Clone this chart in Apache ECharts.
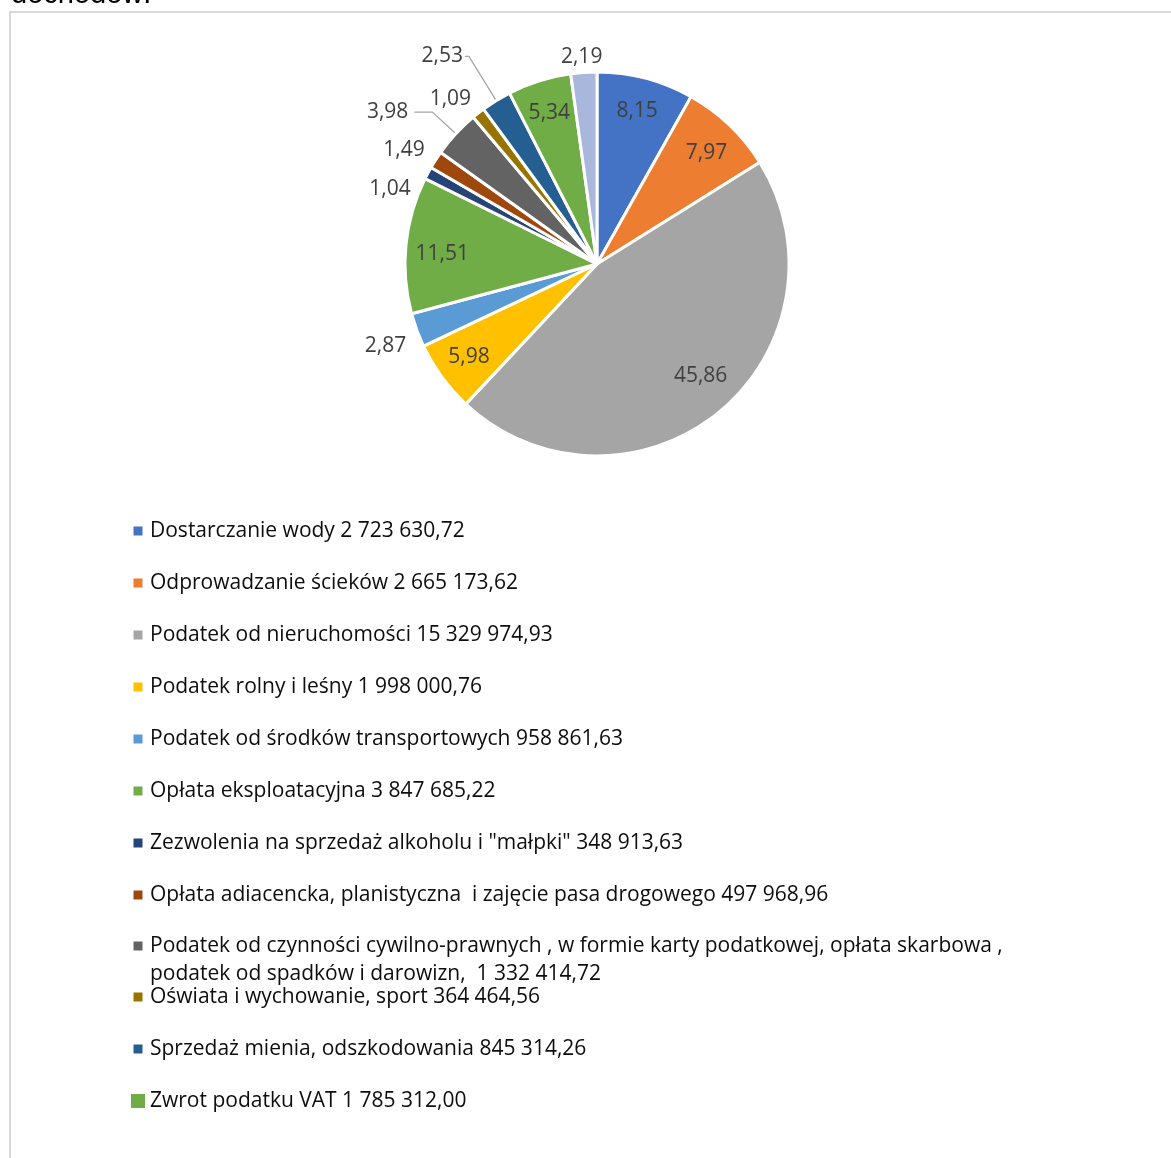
<!DOCTYPE html>
<html>
<head>
<meta charset="utf-8">
<title>Struktura dochodów</title>
<script src="https://cdn.jsdelivr.net/npm/echarts@6/dist/echarts.min.js"></script>
<style>
html, body { margin: 0; padding: 0; background: #fff; }
#pie { width: 1171px; height: 1158px; }
</style>
</head>
<body>
<div id="pie"></div>
<script>
const names = [
  'Dostarczanie wody',
  'Odprowadzanie ścieków',
  'Podatek od nieruchomości',
  'Podatek rolny i leśny',
  'Podatek od środków transportowych',
  'Opłata eksploatacyjna',
  'Zezwolenia na sprzedaż alkoholu i "małpki"',
  'Opłata adiacencka, planistyczna  i zajęcie pasa drogowego',
  'Podatek od czynności cywilno-prawnych , w formie karty podatkowej, opłata skarbowa , podatek od spadków i darowizn, ',
  'Oświata i wychowanie, sport',
  'Sprzedaż mienia, odszkodowania',
  'Zwrot podatku VAT',
  'Pozostałe dochody'
]
// udział w %
const shares = [8.15, 7.97, 45.86, 5.98, 2.87, 11.51, 1.04, 1.49, 3.98, 1.09, 2.53, 5.34, 2.19]
// kwoty w zł (legenda)
const amounts = [
  2723630.72, 2665173.62, 15329974.93, 1998000.76, 958861.63, 3847685.22,
  348913.63, 497968.96, 1332414.72, 364464.56, 845314.26, 1785312.0
]
const colors = [
  '#4472C4', '#ED7D31', '#A5A5A5', '#FFC000', '#5B9BD5', '#70AD47',
  '#264478', '#9E480E', '#636363', '#997300', '#255E91', '#70AD47', '#A9B7DD'
]

const FONT = 'Open Sans'
const SMALL_ICON = 'path://M0,0M2.5,2.5h9v9h-9zM14,14'

function money(v) {
  const parts = v.toFixed(2).split('.')
  return parts[0].replace(/\B(?=(\d{3})+(?!\d))/g, ' ') + ',' + parts[1]
}
function pct(v) {
  return v.toFixed(2).replace('.', ',')
}

// etykiety zewnętrzne z linią odniesienia
const outside = {
  8: { line: true, length: 32, length2: 18, dist: 6 },
  10: { line: true, length: 52, length2: 4, dist: 2 }
}
// drobne przesunięcia etykiet
const nudgeOut = { 4: [-3, 14], 6: [-10, 19], 7: [-4, -7], 9: [-1.5, -9], 12: [21, -9] }
const nudgeIn = { 1: [0, 4], 2: [3, -10], 5: [3, 6] }

const center = [597, 264]
const R = 192

function shift(table) {
  return function (p) {
    const n = table[p.dataIndex]
    if (!n) return {}
    const r = p.labelRect
    const ax = p.align === 'right' ? r.x + r.width : p.align === 'left' ? r.x : r.x + r.width / 2
    return { x: ax + n[0], y: r.y + r.height / 2 + n[1] }
  }
}

const pieData = shares.map((v, i) => {
  const o = outside[i] || { line: false, length: 6, length2: 0, dist: 2 }
  return {
    name: names[i],
    value: v,
    label: { show: v < 5, distanceToLabelLine: o.dist },
    labelLine: { show: o.line, length: o.length, length2: o.length2 }
  }
})
const innerData = shares.map((v, i) => ({
  name: names[i],
  value: v,
  label: { show: v >= 5 }
}))

function legend(from, to, top) {
  return {
    orient: 'vertical',
    left: 131,
    top: top,
    padding: 0,
    itemWidth: 14,
    itemHeight: 14,
    itemGap: 24,
    selectedMode: false,
    itemStyle: { borderWidth: 0 },
    textStyle: { fontFamily: FONT, fontSize: 21, color: '#0d0d0d', lineHeight: 28 },
    data: names.slice(from, to).map((n, k) => ({
      name: n,
      icon: from + k === 11 ? 'rect' : SMALL_ICON
    })),
    formatter: function (name) {
      const i = names.indexOf(name)
      const text = name + ' ' + money(amounts[i])
      // długa pozycja: pierwsza linia na wysokości znacznika, druga pod nią
      if (text.indexOf('skarbowa , ') > 0) return '\n' + text.replace('skarbowa , ', 'skarbowa ,\n')
      return text
    }
  }
}

const chart = echarts.init(document.getElementById('pie'))
chart.setOption({
  animation: false,
  color: colors,
  graphic: [
    {
      type: 'rect',
      z: -1,
      shape: { x: 10, y: 12, width: 1300, height: 1300 },
      style: { fill: 'none', stroke: '#d9d9d9', lineWidth: 2 }
    },
    {
      type: 'text',
      x: 11,
      y: -5,
      style: {
        text: 'dochodów:',
        font: '29px "Liberation Sans"',
        fill: '#000',
        verticalAlign: 'middle'
      }
    }
  ],
  legend: [
    legend(0, 8, 517),
    legend(8, 9, 904),
    legend(9, 12, 983)
  ],
  series: [
    {
      name: 'Dochody',
      type: 'pie',
      center: center,
      radius: R,
      avoidLabelOverlap: false,
      emphasis: { disabled: true },
      itemStyle: { borderColor: '#fff', borderWidth: 3 },
      label: {
        position: 'outside',
        formatter: p => pct(p.value),
        fontFamily: FONT,
        fontSize: 21,
        lineHeight: 24,
        color: '#404040'
      },
      labelLine: { lineStyle: { color: '#A6A6A6', width: 1.3 } },
      labelLayout: shift(nudgeOut),
      data: pieData
    },
    {
      name: 'Etykiety',
      type: 'pie',
      center: center,
      radius: [119, R],
      silent: true,
      z: 3,
      emphasis: { disabled: true },
      itemStyle: { color: 'rgba(0,0,0,0)', borderWidth: 0 },
      label: {
        position: 'inside',
        formatter: p => pct(p.value),
        fontFamily: FONT,
        fontSize: 21,
        lineHeight: 24,
        color: '#404040'
      },
      labelLine: { show: false },
      labelLayout: shift(nudgeIn),
      data: innerData
    }
  ]
})
</script>
</body>
</html>
